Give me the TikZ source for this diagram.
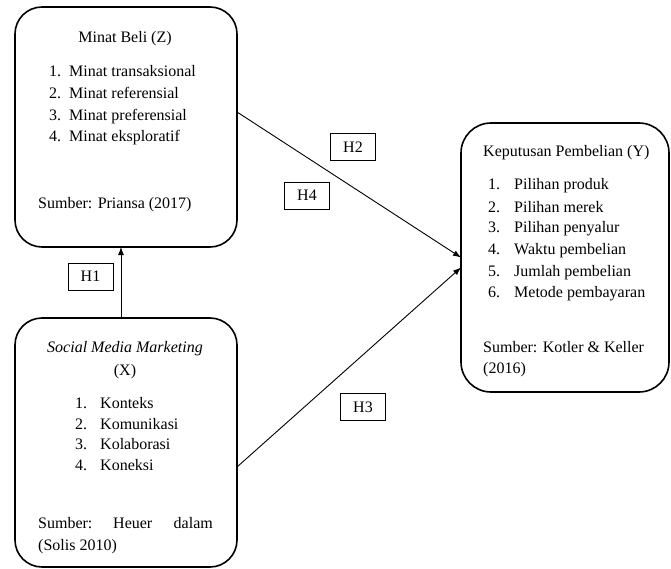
\documentclass[tikz,border=0pt]{standalone}
\usepackage{fontspec}
\setmainfont{Liberation Serif}
\usetikzlibrary{arrows.meta}
\begin{document}
\begin{tikzpicture}[x=1pt,y=-1pt,
  varbox/.style={draw, line width=1.6pt, rounded corners=27pt, inner sep=0pt, outer sep=0pt},
  hbox/.style={draw, line width=0.8pt, minimum width=45pt, minimum height=27pt, inner sep=0pt, font=\fontsize{16}{19}\selectfont},
  txt/.style={inner sep=0pt, anchor=base west, font=\fontsize{16}{19}\selectfont},
  ctxt/.style={inner sep=0pt, anchor=base, font=\fontsize{16}{19}\selectfont},
  etxt/.style={inner sep=0pt, anchor=base east, font=\fontsize{16}{19}\selectfont},
  conn/.style={line width=0.9pt, -{Latex[length=8pt,width=6pt]}}
]
\useasboundingbox (0,0) rectangle (671,569);
\fill[white] (0,0) rectangle (671,569);

% boxes
\node[varbox, minimum width=222pt, minimum height=240pt] (Z) at (126,127) {};
\node[varbox, minimum width=222pt, minimum height=249pt] (X) at (126,442.5) {};
\node[varbox, minimum width=208pt, minimum height=269pt, rounded corners=30pt] (Y) at (565,257.5) {};

% Z text
\node[ctxt] (zt) at (125,43) {Minat Beli (Z)};
\node[txt] (zn1) at (49,77) {1.};
\node[txt] (zi1) at (69,77) {Minat transaksional};
\node[txt] (zn2) at (49,99) {2.};
\node[txt] (zi2) at (69,99) {Minat referensial};
\node[txt] (zn3) at (49,121) {3.};
\node[txt] (zi3) at (69,121) {Minat preferensial};
\node[txt] (zn4) at (49,142) {4.};
\node[txt] (zi4) at (69,142) {Minat eksploratif};
\node[txt] (zs) at (38,208) {Sumber: Priansa (2017)};

% X text
\node[ctxt] (xt) at (125,352) {\itshape Social Media Marketing};
\node[ctxt] (xt2) at (125,375) {(X)};
\node[txt] (xn1) at (75,408) {1.};
\node[txt] (xi1) at (100,408) {Konteks};
\node[txt] (xn2) at (75,429) {2.};
\node[txt] (xi2) at (100,429) {Komunikasi};
\node[txt] (xn3) at (75,449.5) {3.};
\node[txt] (xi3) at (100,449.5) {Kolaborasi};
\node[txt] (xn4) at (75,470) {4.};
\node[txt] (xi4) at (100,470) {Koneksi};
\node[txt] (xs1) at (38,528) {Sumber:};
\node[txt] (xs2) at (113,528) {Heuer};
\node[etxt] (xs3) at (213,528) {dalam};
\node[txt] (xs4) at (38,550) {(Solis 2010)};

% Y text
\node[txt] (yt) at (483,157) {Keputusan Pembelian (Y)};
\node[txt] (yn1) at (488,190) {1.};
\node[txt] (yi1) at (514,190) {Pilihan produk};
\node[txt] (yn2) at (488,212) {2.};
\node[txt] (yi2) at (514,212) {Pilihan merek};
\node[txt] (yn3) at (488,233) {3.};
\node[txt] (yi3) at (514,233) {Pilihan penyalur};
\node[txt] (yn4) at (488,254.5) {4.};
\node[txt] (yi4) at (514,254.5) {Waktu pembelian};
\node[txt] (yn5) at (488,276) {5.};
\node[txt] (yi5) at (514,276) {Jumlah pembelian};
\node[txt] (yn6) at (488,297) {6.};
\node[txt] (yi6) at (514,297) {Metode pembayaran};
\node[txt] (ys1) at (483,352) {Sumber: Kotler \& Keller};
\node[txt] (ys2) at (483,373) {(2016)};

% connectors
\draw[conn] ([xshift=-5pt]X.north) -- ([xshift=-5pt]Z.south);
\draw[conn] ([yshift=15pt]Z.east) -- ([yshift=0pt]Y.west);
\draw[conn] ([yshift=-24.5pt]X.east) -- ([yshift=-10pt]Y.west);

% hypothesis labels
\node[hbox] (h1) at (90.5,276.5) {H1};
\node[hbox] (h2) at (353,147) {H2};
\node[hbox] (h4) at (307,195.5) {H4};
\node[hbox] (h3) at (363,407) {H3};
\end{tikzpicture}
\end{document}
